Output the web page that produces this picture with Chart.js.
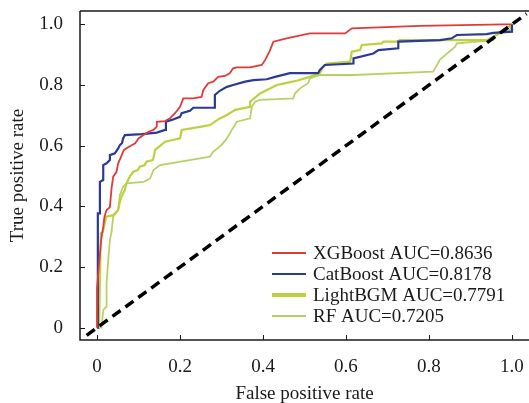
<!DOCTYPE html>
<html>
<head>
<meta charset="utf-8">
<script src="https://cdn.jsdelivr.net/npm/chart.js@4.4.1/dist/chart.umd.min.js"></script>
<style>
  html, body { margin: 0; padding: 0; background: #fff; }
  #wrap { width: 529px; height: 403px; position: relative; }
</style>
</head>
<body>
<div id="wrap"><canvas id="Grafico"></canvas></div>
<script>
'use strict';

// ---- dados (FPR / TPR de cada modelo) ----
const xgbFpr = [0, 0, 0.01, 0.015, 0.018, 0.023, 0.031, 0.035, 0.039, 0.047, 0.051, 0.058, 0.065, 0.075, 0.092, 0.1, 0.112, 0.124, 0.136, 0.144, 0.144, 0.164, 0.176, 0.188, 0.2, 0.208, 0.232, 0.252, 0.256, 0.268, 0.28, 0.292, 0.308, 0.32, 0.328, 0.337, 0.369, 0.397, 0.405, 0.417, 0.425, 0.457, 0.513, 0.598, 0.614, 0.778, 0.98, 1];
const xgbTpr = [0, 0.13, 0.29, 0.333, 0.366, 0.388, 0.397, 0.459, 0.498, 0.514, 0.542, 0.564, 0.586, 0.595, 0.608, 0.624, 0.635, 0.646, 0.652, 0.663, 0.679, 0.681, 0.69, 0.707, 0.728, 0.756, 0.756, 0.761, 0.783, 0.806, 0.811, 0.827, 0.83, 0.839, 0.855, 0.858, 0.858, 0.866, 0.882, 0.915, 0.943, 0.954, 0.97, 0.97, 0.987, 0.995, 1, 1];

const catFpr = [0, 0.002, 0.002, 0.007, 0.007, 0.015, 0.015, 0.023, 0.031, 0.031, 0.043, 0.051, 0.055, 0.06, 0.063, 0.067, 0.108, 0.144, 0.164, 0.166, 0.18, 0.2, 0.204, 0.224, 0.232, 0.284, 0.284, 0.296, 0.313, 0.328, 0.357, 0.377, 0.409, 0.429, 0.465, 0.533, 0.537, 0.549, 0.618, 0.618, 0.666, 0.678, 0.726, 0.726, 0.827, 0.855, 0.867, 0.939, 0.955, 1, 1];
const catTpr = [0, 0.152, 0.377, 0.377, 0.481, 0.487, 0.536, 0.542, 0.553, 0.569, 0.575, 0.591, 0.602, 0.608, 0.624, 0.635, 0.638, 0.643, 0.652, 0.679, 0.685, 0.695, 0.707, 0.715, 0.725, 0.725, 0.767, 0.781, 0.794, 0.8, 0.811, 0.816, 0.819, 0.827, 0.839, 0.839, 0.85, 0.866, 0.871, 0.888, 0.904, 0.915, 0.921, 0.943, 0.948, 0.954, 0.965, 0.968, 0.972, 0.976, 1];

const lgbFpr = [0, 0.005, 0.009, 0.014, 0.022, 0.039, 0.047, 0.051, 0.055, 0.059, 0.067, 0.071, 0.079, 0.087, 0.099, 0.103, 0.115, 0.119, 0.135, 0.14, 0.164, 0.2, 0.204, 0.252, 0.272, 0.296, 0.313, 0.333, 0.369, 0.369, 0.393, 0.413, 0.433, 0.457, 0.481, 0.513, 0.537, 0.545, 0.554, 0.61, 0.614, 0.634, 0.638, 0.686, 0.69, 0.722, 0.73, 0.939, 0.963, 0.983, 1];
const lgbTpr = [0, 0, 0.311, 0.316, 0.366, 0.371, 0.382, 0.388, 0.415, 0.432, 0.454, 0.476, 0.498, 0.514, 0.52, 0.531, 0.536, 0.547, 0.553, 0.586, 0.613, 0.624, 0.652, 0.663, 0.668, 0.69, 0.701, 0.718, 0.728, 0.745, 0.772, 0.786, 0.8, 0.807, 0.814, 0.827, 0.839, 0.86, 0.871, 0.877, 0.91, 0.915, 0.932, 0.937, 0.943, 0.943, 0.948, 0.948, 0.965, 0.981, 1];

const rfFpr = [0, 0.011, 0.015, 0.022, 0.023, 0.027, 0.031, 0.035, 0.039, 0.051, 0.055, 0.063, 0.072, 0.112, 0.128, 0.136, 0.152, 0.248, 0.272, 0.28, 0.3, 0.313, 0.325, 0.337, 0.369, 0.373, 0.381, 0.393, 0.473, 0.477, 0.489, 0.509, 0.513, 0.537, 0.618, 0.81, 0.827, 0.863, 0.867, 0.955, 0.963, 0.995, 1];
const rfTpr = [0, 0, 0.058, 0.069, 0.146, 0.223, 0.289, 0.316, 0.366, 0.388, 0.437, 0.465, 0.476, 0.481, 0.492, 0.52, 0.536, 0.558, 0.564, 0.58, 0.602, 0.624, 0.652, 0.679, 0.69, 0.728, 0.745, 0.751, 0.756, 0.772, 0.789, 0.806, 0.822, 0.833, 0.833, 0.844, 0.885, 0.926, 0.937, 0.948, 0.97, 0.981, 1];

// linha de referência (aleatório)
const diagVals = [-0.025, 1.035];

const modelos = ['XGBoost AUC=0.8636', 'CatBoost AUC=0.8178', 'LightBGM AUC=0.7791', 'RF AUC=0.7205'];
const cores = ['#e23a3a', '#2b3a96', '#bdd13c', '#b6d266'];
const xTicks = [0, 0.2, 0.4, 0.6, 0.8, 1.0];
const xTickLabels = ['0', '0.2', '0.4', '0.6', '0.8', '1.0'];
const yTicks = [0, 0.2, 0.4, 0.6, 0.8, 1.0];
const yTickLabels = ['0', '0.2', '0.4', '0.6', '0.8', '1.0'];

const FONTE = "'Liberation Serif', 'Times New Roman', serif";
const zip = (xs, ys) => xs.map((v, i) => ({ x: v, y: ys[i] }));

// moldura superior, ticks para dentro e legenda
const moldura = {
  id: 'moldura',
  afterDraw(chart) {
    const { ctx, chartArea: a, scales: { x, y } } = chart;
    ctx.save();
    ctx.strokeStyle = '#1a1a1a';
    ctx.lineWidth = 1.5;
    ctx.beginPath();
    ctx.moveTo(a.left, a.top); ctx.lineTo(a.right, a.top);
    ctx.moveTo(a.left, a.top); ctx.lineTo(a.left, a.bottom);
    ctx.lineTo(a.right, a.bottom);
    ctx.stroke();
    ctx.lineWidth = 1;
    ctx.beginPath();
    xTicks.forEach(v => {
      const px = Math.round(x.getPixelForValue(v)) + 0.5;
      ctx.moveTo(px, a.bottom); ctx.lineTo(px, a.bottom - 5);
    });
    yTicks.forEach(v => {
      const py = Math.round(y.getPixelForValue(v)) + 0.5;
      ctx.moveTo(a.left, py); ctx.lineTo(a.left + 5, py);
    });
    ctx.stroke();

    // legenda
    const lx = a.right - 257, ly = a.bottom - 87;
    ctx.font = '19px ' + FONTE;
    ctx.textBaseline = 'middle';
    ctx.fillStyle = '#1a1a1a';
    modelos.forEach((m, i) => {
      const yy = ly + i * 21;
      ctx.strokeStyle = cores[i];
      ctx.lineWidth = i === 2 ? 4 : 2;
      ctx.beginPath();
      ctx.moveTo(lx, yy); ctx.lineTo(lx + 34, yy);
      ctx.stroke();
      ctx.fillText(m, lx + 41, yy + 1);
    });
    ctx.restore();
  }
};

const serie = (label, data, cor, w) => ({
  label, data, borderColor: cor, borderWidth: w,
  pointRadius: 0, tension: 0, fill: false, borderJoinStyle: 'miter'
});

new Chart(document.getElementById('Grafico'), {
  type: 'line',
  data: {
    datasets: [
      { label: 'diag', data: zip(diagVals, diagVals), borderColor: '#000', borderWidth: 3.5,
        borderDash: [10, 6], pointRadius: 0, fill: false },
      serie(modelos[0], zip(xgbFpr, xgbTpr), cores[0], 1.8),
      serie(modelos[1], zip(catFpr, catTpr), cores[1], 2.2),
      serie(modelos[2], zip(lgbFpr, lgbTpr), cores[2], 2.2),
      serie(modelos[3], zip(rfFpr, rfTpr), cores[3], 1.8)
    ]
  },
  options: {
    responsive: true,
    maintainAspectRatio: false,
    animation: false,
    layout: { padding: { top: 11, right: 0, left: 0, bottom: 0 } },
    plugins: { legend: { display: false }, tooltip: { enabled: false } },
    scales: {
      x: {
        type: 'linear', min: -0.041, max: 1.041,
        afterBuildTicks: s => { s.ticks = xTicks.map(v => ({ value: v })); },
        afterFit: s => { s.height = 63; s.paddingLeft = 0; s.paddingRight = 0; },
        grid: { display: false, drawTicks: false },
        border: { display: false },
        ticks: {
          padding: 16, color: '#1a1a1a', font: { family: FONTE, size: 19 },
          callback: (v) => xTickLabels[xTicks.indexOf(v)]
        },
        title: { display: true, text: 'False positive rate', color: '#1a1a1a',
          font: { family: FONTE, size: 19 }, padding: { top: 0, bottom: -2 } }
      },
      y: {
        type: 'linear', min: -0.0405, max: 1.044,
        afterBuildTicks: s => { s.ticks = yTicks.map(v => ({ value: v })); },
        afterFit: s => { s.width = 80; s.paddingTop = 0; s.paddingBottom = 0; },
        grid: { display: false, drawTicks: false },
        border: { display: false },
        ticks: {
          padding: 17, color: '#1a1a1a', font: { family: FONTE, size: 19 },
          callback: (v) => yTickLabels[yTicks.indexOf(v)]
        },
        title: { display: true, text: 'True positive rate', color: '#1a1a1a',
          font: { family: FONTE, size: 19 }, padding: { top: 7, bottom: 0 } }
      }
    }
  },
  plugins: [moldura]
});
</script>
</body>
</html>
